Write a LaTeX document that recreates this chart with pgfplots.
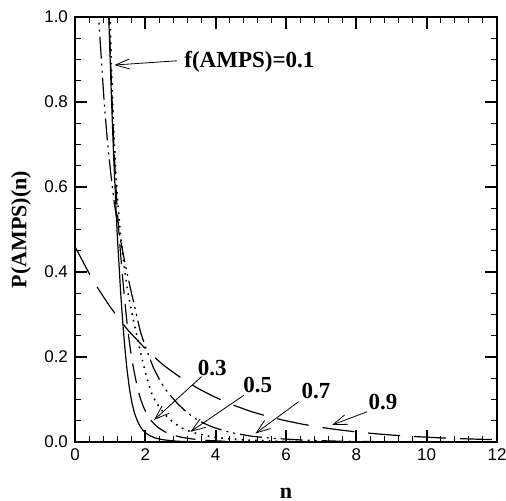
\documentclass[border=0pt]{standalone}
\usepackage{fontspec}
\setmainfont{Liberation Serif}
\newfontfamily\arialsans{Liberation Sans}
\usepackage{pgfplots}
\pgfplotsset{compat=1.18}
\usetikzlibrary{arrows.meta,calc}

\begin{document}
\begin{tikzpicture}[
  arr/.style={line width=0.4pt,-{Straight Barb[length=7pt,width=5pt,line width=0.4pt]}},
  lab/.style={font=\bfseries\fontsize{11.5}{13}\selectfont,inner sep=0pt}]
\begin{axis}[
  scale only axis, width=211pt, height=212.5pt,
  xmin=0, xmax=12, ymin=0, ymax=1,
  xtick={0,2,4,6,8,10,12}, ytick={0,0.2,0.4,0.6,0.8,1},
  minor x tick num=4, minor y tick num=3,
  tick align=inside, major tick length=6pt, minor tick length=3pt,
  every major tick/.style={line width=0.9pt,black},
  every minor tick/.style={line width=0.5pt,black},
  axis line style={line width=1pt},
  ticklabel style={font=\arialsans\fontsize{8.5}{10}\selectfont},
  /pgf/number format/assume math mode=true,
  yticklabel style={/pgf/number format/fixed,/pgf/number format/fixed zerofill,/pgf/number format/precision=1},
  xlabel={\textbf{n}}, ylabel={\textbf{P(AMPS)(n)}},
  label style={font=\fontsize{11}{13}\selectfont},
  xlabel style={at={(axis description cs:0.5,0)},anchor=center,yshift=-25.5pt},
  ylabel style={at={([xshift=-27pt]axis description cs:0,0.5)},anchor=center},
]
\coordinate (sw) at (rel axis cs:0,0);
\coordinate (ne) at (rel axis cs:1,1);

% f = 0.1
\addplot[black,line width=0.6pt,smooth,tension=0.3] coordinates {
(0.93,1.10)(0.96,1.00)(1.00,0.90)(1.05,0.78)(1.10,0.67)(1.15,0.58)(1.20,0.49)
(1.25,0.42)(1.30,0.35)(1.36,0.28)(1.42,0.22)(1.48,0.17)(1.55,0.125)(1.62,0.092)
(1.70,0.066)(1.80,0.045)(1.90,0.031)(2.00,0.022)(2.15,0.014)(2.30,0.009)
(2.50,0.0055)(2.75,0.003)(3.00,0.0015)(3.50,0.0005)(4.00,0.0001)(5.00,0)};

% f = 0.3
\addplot[black,line width=0.6pt,dash pattern=on 10pt off 5pt,smooth,tension=0.3] coordinates {
(0.95,1.10)(0.97,1.00)(1.02,0.88)(1.08,0.75)(1.14,0.64)(1.20,0.55)(1.27,0.47)
(1.35,0.39)(1.43,0.32)(1.50,0.265)(1.58,0.215)(1.66,0.175)(1.75,0.138)(1.85,0.105)
(1.95,0.082)(2.05,0.065)(2.18,0.049)(2.35,0.035)(2.56,0.024)(2.80,0.016)
(3.04,0.011)(3.40,0.0065)(3.80,0.0035)(4.50,0.0012)(5.50,0.0002)(6.50,0)};

% f = 0.5
\addplot[black,line width=0.8pt,dash pattern=on 0.8pt off 2.6pt,smooth,tension=0.3] coordinates {
(0.98,1.10)(1.00,1.00)(1.03,0.90)(1.07,0.80)(1.12,0.70)(1.18,0.61)(1.25,0.53)
(1.33,0.46)(1.42,0.40)(1.52,0.345)(1.64,0.295)(1.76,0.25)(1.88,0.205)(2.00,0.165)
(2.10,0.135)(2.20,0.11)(2.35,0.088)(2.56,0.065)(2.80,0.046)(3.04,0.033)
(3.30,0.024)(3.61,0.017)(4.00,0.011)(4.40,0.0075)(5.00,0.0042)(6.00,0.0015)
(7.00,0.0005)(8.00,0.0001)(9.00,0)};

% f = 0.7
\addplot[black,line width=0.6pt,dash pattern=on 11pt off 2.5pt on 1pt off 2.5pt on 1pt off 2.5pt,smooth,tension=0.3] coordinates {
(0.64,1.05)(0.67,1.00)(0.75,0.90)(0.83,0.80)(0.92,0.71)(1.02,0.63)(1.12,0.56)
(1.22,0.51)(1.33,0.46)(1.45,0.41)(1.58,0.36)(1.72,0.31)(1.86,0.26)(2.00,0.225)
(2.23,0.175)(2.45,0.14)(2.61,0.12)(2.90,0.092)(3.18,0.07)(3.50,0.051)(3.89,0.036)
(4.40,0.023)(5.00,0.014)(5.60,0.009)(6.50,0.0045)(7.50,0.002)(9.00,0.0006)(11.0,0)};

% f = 0.9
\addplot[black,line width=0.6pt,dash pattern=on 16pt off 7pt,smooth,tension=0.3] coordinates {
(0,0.460)(0.5,0.382)(1.0,0.318)(1.5,0.264)(2.0,0.220)(2.5,0.182)(3.0,0.152)
(3.5,0.126)(4.0,0.105)(4.5,0.087)(5.0,0.072)(5.5,0.060)(6.0,0.050)(6.5,0.0415)
(7.0,0.0345)(7.5,0.0287)(8.0,0.0238)(8.5,0.0198)(9.0,0.0164)(9.5,0.0137)
(10.0,0.0114)(10.5,0.0094)(11.0,0.0078)(11.5,0.0065)(12.0,0.0054)};

% labels and arrows
\node[lab,anchor=west] at (axis cs:3.1,0.894) {f(AMPS)=0.1};
\draw[arr] (axis cs:2.9,0.897) -- (axis cs:1.12,0.887);
\node[lab] at (axis cs:3.9,0.174) {0.3};
\draw[arr] (axis cs:3.6,0.154) -- (axis cs:2.25,0.052);
\node[lab] at (axis cs:5.2,0.134) {0.5};
\draw[arr] (axis cs:4.8,0.11) -- (axis cs:3.28,0.024);
\node[lab] at (axis cs:6.85,0.12) {0.7};
\draw[arr] (axis cs:6.36,0.095) -- (axis cs:5.13,0.02);
\node[lab] at (axis cs:8.76,0.093) {0.9};
\draw[arr] (axis cs:8.3,0.071) -- (axis cs:7.31,0.04);
\end{axis}
\pgfresetboundingbox
\path[use as bounding box] ($(sw)+(-37.5pt,-29pt)$) rectangle ($(ne)+(4.5pt,8.5pt)$);
\end{tikzpicture}
\end{document}
